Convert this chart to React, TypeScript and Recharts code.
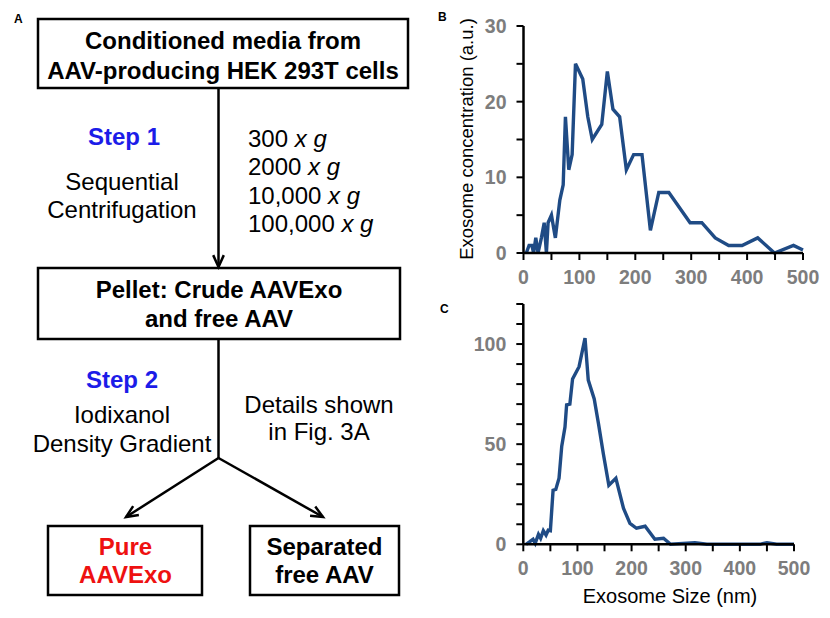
import React from 'react';
import { Line, LineChart, XAxis, YAxis } from 'recharts';

// ----------------------------------------------------------------------
// data

const bSizes = [5, 10, 15, 18, 22, 26, 32, 37, 41, 44, 50, 57, 65, 71, 75, 81, 87, 93, 106, 115, 123, 140, 150, 160, 172, 184, 197, 212, 227, 242, 260, 298, 319, 343, 367, 391, 419, 449, 483, 500];
const bConc = [0, 1, 1, 0, 2, 0, 2, 4, 0, 4, 5, 2, 7, 9, 18, 11, 13, 25, 23, 18, 15, 17, 24, 19, 18, 11, 13, 13, 3, 8, 8, 4, 4, 2, 1, 1, 2, 0, 1, 0.4];

const cSizes = [5, 12, 18, 22, 28, 32, 37, 42, 46, 50, 55, 60, 66, 71, 77, 80, 86, 91, 103, 114, 120, 131, 139, 148, 158, 171, 185, 197, 209, 225, 243, 259, 272, 317, 339, 437, 450, 468, 500];
const cConc = [0, 1.3, 2.5, 0.5, 5, 3, 6.8, 4.6, 7, 6.8, 27, 27.4, 33, 49, 58.5, 69.6, 70, 82.6, 88.7, 103, 82, 72.6, 60, 45, 29.5, 33, 18, 10.4, 8, 9, 2.5, 3, 0, 0.8, 0, 0, 0.8, 0, 0];

const xTicks = [0, 50, 100, 150, 200, 250, 300, 350, 400, 450, 500];
const bYTicks = [0, 5, 10, 15, 20, 25, 30];
const cYTicks = [0, 10, 20, 30, 40, 50, 60, 70, 80, 90, 100, 110, 120];

const bData = bSizes.map((x, i) => ({ x, y: bConc[i] }));
const cData = cSizes.map((x, i) => ({ x, y: cConc[i] }));

// ----------------------------------------------------------------------

const FONT = '"Liberation Sans", Arial, sans-serif';
const LINE = '#1f4b85';
const TICK_GRAY = '#7d7d7d';

function XTick(props: any) {
  const { x, y, payload } = props;
  if (payload.value % 100 !== 0) return <g />;
  return (
    <text x={x} y={y} dy="0.71em" textAnchor="middle" fill={TICK_GRAY} fontWeight="bold" fontSize={19.5} fontFamily={FONT}>
      {payload.value}
    </text>
  );
}

const makeYTick = (every: number) =>
  function YTick(props: any) {
    const { x, y, payload } = props;
    if (payload.value % every !== 0) return <g />;
    return (
      <text x={x} y={y} dy="0.355em" textAnchor="end" fill={TICK_GRAY} fontWeight="bold" fontSize={19.5} fontFamily={FONT}>
        {payload.value}
      </text>
    );
  };

const BYTick = makeYTick(10);
const CYTick = makeYTick(50);

function Arrow({ x1, y1, x2, y2 }: { x1: number; y1: number; x2: number; y2: number }) {
  const ang = Math.atan2(y2 - y1, x2 - x1);
  const len = 13;
  const spread = 0.42;
  const ax = x2 - len * Math.cos(ang - spread);
  const ay = y2 - len * Math.sin(ang - spread);
  const bx = x2 - len * Math.cos(ang + spread);
  const by = y2 - len * Math.sin(ang + spread);
  return (
    <g stroke="#000" strokeWidth={2.5} fill="none">
      <line x1={x1} y1={y1} x2={x2} y2={y2} />
      <path d={`M${ax},${ay} L${x2},${y2} L${bx},${by}`} />
    </g>
  );
}

function Flowchart() {
  const t = { fontFamily: FONT, fontSize: 24 } as const;
  return (
    <svg width={430} height={618} style={{ position: 'absolute', left: 0, top: 0 }}>
      <text x={14} y={23} fontFamily={FONT} fontWeight="bold" fontSize={12}>A</text>

      <rect x={38} y={19} width={370} height={69} fill="none" stroke="#000" strokeWidth={2.5} />
      <text x={223} y={49} textAnchor="middle" fontWeight="bold" {...t}>Conditioned media from</text>
      <text x={223} y={79} textAnchor="middle" fontWeight="bold" {...t}>AAV-producing HEK 293T cells</text>

      <Arrow x1={218.5} y1={88} x2={218.5} y2={267} />

      <text x={124} y={145} textAnchor="middle" fontWeight="bold" fill="#1c1ce8" {...t}>Step 1</text>
      <text x={122} y={190} textAnchor="middle" {...t}>Sequential</text>
      <text x={122} y={218} textAnchor="middle" {...t}>Centrifugation</text>

      {['300', '2000', '10,000', '100,000'].map((s, i) => (
        <text key={s} x={248} y={147 + i * 28.4} {...t}>
          {s} <tspan fontStyle="italic">x g</tspan>
        </text>
      ))}

      <rect x={38} y={268} width={362} height={71} fill="none" stroke="#000" strokeWidth={2.5} />
      <text x={219} y={298} textAnchor="middle" fontWeight="bold" {...t}>Pellet: Crude AAVExo</text>
      <text x={219} y={327} textAnchor="middle" fontWeight="bold" {...t}>and free AAV</text>

      <line x1={218.5} y1={339} x2={218.5} y2={458} stroke="#000" strokeWidth={2.5} />

      <text x={122} y={388} textAnchor="middle" fontWeight="bold" fill="#1c1ce8" {...t}>Step 2</text>
      <text x={122} y={423} textAnchor="middle" {...t}>Iodixanol</text>
      <text x={122} y={452} textAnchor="middle" {...t}>Density Gradient</text>

      <text x={319} y={413} textAnchor="middle" {...t}>Details shown</text>
      <text x={319} y={440} textAnchor="middle" {...t}>in Fig. 3A</text>

      <Arrow x1={218.5} y1={458} x2={126} y2={517} />
      <Arrow x1={218.5} y1={458} x2={323} y2={517} />

      <rect x={48} y={526} width={154} height={69} fill="none" stroke="#000" strokeWidth={2.5} />
      <text x={125.5} y={555} textAnchor="middle" fontWeight="bold" fill="#ee1111" {...t}>Pure</text>
      <text x={125.5} y={583} textAnchor="middle" fontWeight="bold" fill="#ee1111" {...t}>AAVExo</text>

      <rect x={250} y={526} width={149} height={69} fill="none" stroke="#000" strokeWidth={2.5} />
      <text x={324.5} y={555} textAnchor="middle" fontWeight="bold" {...t}>Separated</text>
      <text x={324.5} y={583} textAnchor="middle" fontWeight="bold" {...t}>free AAV</text>
    </svg>
  );
}

const axisLine = { stroke: '#000', strokeWidth: 2.5 };
const tickLine = { stroke: '#000', strokeWidth: 2 };

export default function App() {
  return (
    <div style={{ position: 'absolute', left: 0, top: 0, width: 830, height: 618, background: '#fff', fontFamily: FONT }}>
      <Flowchart />

      {/* B */}
      <div style={{ position: 'absolute', left: 430, top: 0 }}>
        <LineChart width={400} height={290} data={bData} margin={{ top: 26, right: 27, left: 33.5, bottom: 7 }}>
          <XAxis dataKey="x" type="number" domain={[0, 500]} ticks={xTicks} interval={0} height={30} stroke="#000"
            axisLine={axisLine} tickLine={tickLine} tickSize={7} tickMargin={10} tick={<XTick />} />
          <YAxis type="number" domain={[0, 30]} ticks={bYTicks} interval={0} width={60} stroke="#000"
            axisLine={axisLine} tickLine={tickLine} tickSize={7} tickMargin={10} tick={<BYTick />} />
          <Line type="linear" dataKey="y" stroke={LINE} strokeWidth={3.4} dot={false} isAnimationActive={false} />
        </LineChart>
      </div>

      {/* C */}
      <div style={{ position: 'absolute', left: 430, top: 290 }}>
        <LineChart width={400} height={300} data={cData} margin={{ top: 14, right: 36, left: 33.3, bottom: 15.7 }}>
          <XAxis dataKey="x" type="number" domain={[0, 500]} ticks={xTicks} interval={0} height={30} stroke="#000"
            axisLine={axisLine} tickLine={tickLine} tickSize={7} tickMargin={10} tick={<XTick />} />
          <YAxis type="number" domain={[0, 120]} ticks={cYTicks} interval={0} width={60} stroke="#000"
            axisLine={axisLine} tickLine={tickLine} tickSize={7} tickMargin={10} tick={<CYTick />} />
          <Line type="linear" dataKey="y" stroke={LINE} strokeWidth={3.4} dot={false} isAnimationActive={false} />
        </LineChart>
      </div>

      <svg width={830} height={618} style={{ position: 'absolute', left: 0, top: 0, pointerEvents: 'none' }}>
        <text x={438} y={21} fontFamily={FONT} fontWeight="bold" fontSize={12}>B</text>
        <text x={440} y={313} fontFamily={FONT} fontWeight="bold" fontSize={12}>C</text>
        <text x={466} y={139} transform="rotate(-90 466 139)" textAnchor="middle" dominantBaseline="central"
          fontFamily={FONT} fontSize={18.5}>
          Exosome concentration (a.u.)
        </text>
        <text x={670} y={596} textAnchor="middle" dominantBaseline="central" fontFamily={FONT} fontSize={20}>
          Exosome Size (nm)
        </text>
      </svg>
    </div>
  );
}
